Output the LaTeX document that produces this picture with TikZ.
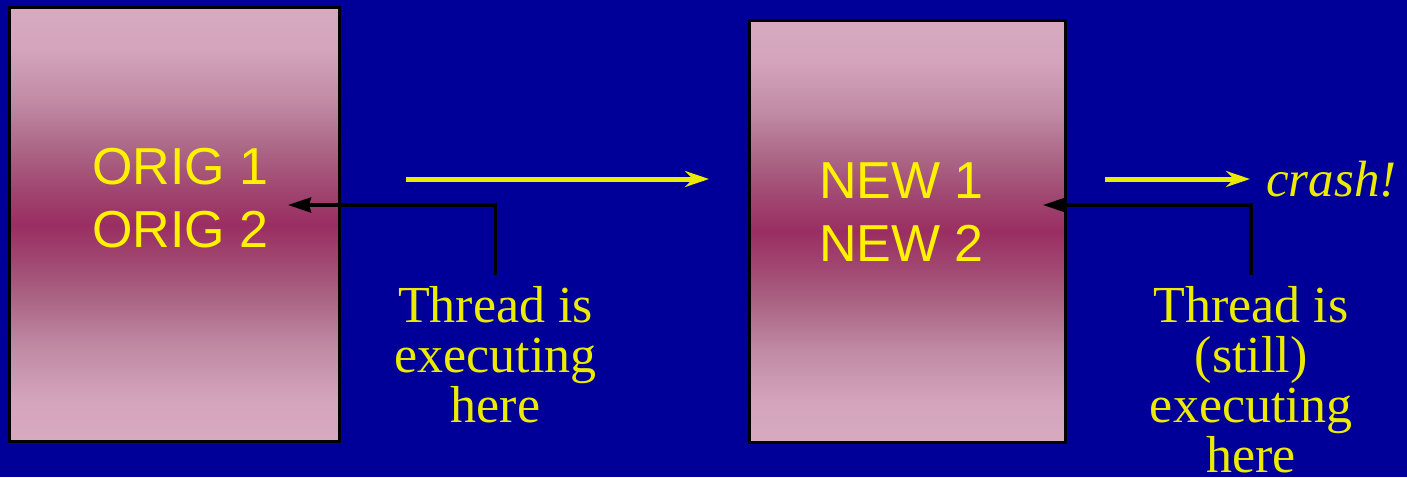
\documentclass[tikz,border=0pt]{standalone}
\usepackage{fontspec}
\setmainfont{Liberation Serif}
\newfontfamily\boxfont{Liberation Sans}
\usetikzlibrary{arrows.meta}
\definecolor{slideblue}{RGB}{0,0,153}
\definecolor{boxlight}{RGB}{216,170,192}
\definecolor{boxpale}{RGB}{211,164,188}
\definecolor{boxsoft}{RGB}{192,138,163}
\definecolor{boxmid}{RGB}{172,104,135}
\definecolor{boxdeep}{RGB}{160,70,112}
\definecolor{boxdark}{RGB}{154,46,98}
\definecolor{labelyellow}{RGB}{235,235,0}
\pgfdeclareverticalshading{boxshade}{100bp}{color(0bp)=(boxlight); color(25bp)=(boxlight); color(30bp)=(boxpale); color(36bp)=(boxsoft); color(41bp)=(boxmid); color(46bp)=(boxdeep); color(50bp)=(boxdark); color(54bp)=(boxdeep); color(59bp)=(boxmid); color(64bp)=(boxsoft); color(70bp)=(boxpale); color(75bp)=(boxlight); color(100bp)=(boxlight)}
\begin{document}
\begin{tikzpicture}[
    x=1pt, y=-1pt,
    codebox/.style={draw=black, line width=3pt, shading=boxshade, rectangle, inner sep=0pt},
    codetext/.style={text=yellow, font=\boxfont\fontsize{52}{63}\selectfont, align=center, inner sep=0pt},
    note/.style={text=labelyellow, font=\fontsize{52}{50}\selectfont, align=center, inner sep=0pt, outer ysep=11pt},
    go/.style={-{Stealth[length=24pt, width=16pt, inset=8pt]}, line width=5pt, draw=labelyellow},
    ptr/.style={-{Stealth[length=23pt, width=15pt, inset=2pt]}, line width=3.5pt, draw=black}
]
  \useasboundingbox (0,0) rectangle (1407,477);
  \fill[slideblue] (0,0) rectangle (1407,477);

  % Code before and after the swap
  \node[codebox, minimum width=330pt, minimum height=434pt] (orig) at (174.5,224.5) {};
  \node[codebox, minimum width=316pt, minimum height=422pt] (new) at (907.5,231.5) {};
  \node[codetext] (origtext) at (180.5,198.5) {ORIG 1\\ORIG 2};
  \node[codetext] (newtext) at (901.5,212) {NEW 1\\NEW 2};

  % Where the thread is
  \node[note, anchor=north] (origthread) at (495.5,275) {Thread is\\executing\\here};
  \node[note, anchor=north] (newthread) at (1251,275) {Thread is\\(still)\\executing\\here};
  \coordinate (origspot) at (288,205);
  \coordinate (newspot) at (1043,205);

  \draw[ptr] (origthread.north) |- (origspot);
  \draw[ptr] (newthread.north) |- (newspot);

  % Swap and result
  \coordinate (swapstart) at (406,179);
  \coordinate (swapend) at (709,179);
  \coordinate (crashstart) at (1105,179);
  \node[text=labelyellow, font=\itshape\fontsize{51}{60}\selectfont, anchor=west, inner xsep=16pt, inner ysep=0pt] (crash) at (1250,179) {crash!};

  \draw[go] (swapstart) -- (swapend);
  \draw[go] (crashstart) -- (crash.west);
\end{tikzpicture}
\end{document}
